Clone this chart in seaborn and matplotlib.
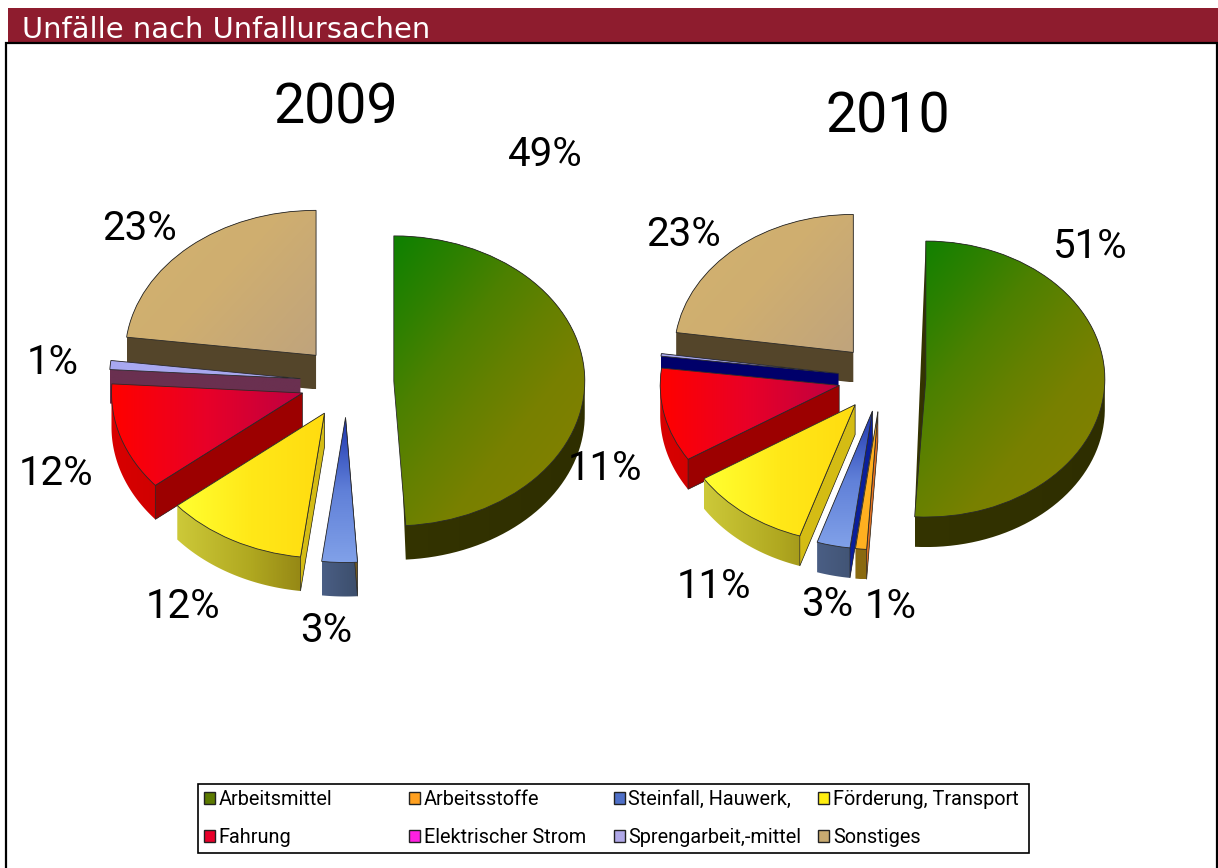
import numpy as np
import matplotlib
matplotlib.use('Agg')
import matplotlib.pyplot as plt
from matplotlib.colors import LinearSegmentedColormap
from matplotlib.patches import Patch, Polygon, Rectangle
import seaborn as sns

W, H = 1218, 868

# Data
categories = ['Arbeitsmittel', 'Arbeitsstoffe', 'Steinfall, Hauwerk,', 'Förderung, Transport',
              'Fahrung', 'Elektrischer Strom', 'Sprengarbeit,-mittel', 'Sonstiges']
values_2009 = [49, 0, 3, 12, 12, 0, 1, 23]
values_2010 = [51, 1, 3, 11, 11, 0, 0.3, 22.7]
labels_2009 = ['49%', '', '3%', '12%', '12%', '', '1%', '23%']
labels_2010 = ['51%', '1%', '3%', '11%', '11%', '', '', '23%']

# Label centres in pixels
label_pos_2009 = [(545, 154), None, (326, 631), (183, 607), (56, 473), None, (53, 362), (139, 229)]
label_pos_2010 = [(1090, 247), (891, 606), (827, 605), (714, 587), (605, 469), None, None, (684, 234)]

legend_colors = ['#5c7a00', '#ffa020', '#4f70c8', '#ffee10', '#e8002a', '#ff20e0', '#b0a8e8', '#c8aa70']

# Colour stops for the top faces, (angle of gradient in degrees, colours)
top_styles = [
    (-50, ['#108000', '#2c8000', '#4c8000', '#648000', '#788000', '#808000', '#808000']),
    (0, ['#ffb020', '#ffb020']),
    (-90, ['#2038b0', '#6080d8', '#80a0e8']),
    (0, ['#ffff30', '#ffe818', '#ffdc10']),
    (0, ['#ff0000', '#e80028', '#c00040']),
    (0, ['#ff20e0', '#ff20e0']),
    (0, ['#a8a8f0', '#a8a8f0']),
    (-35, ['#d2b26e', '#cfae70', '#c0a47c']),
]
wall_styles = [
    ['#343400', '#2e2e00'],
    ['#8a6a10', '#8a6a10'],
    ['#4a5e84', '#3c4e6c'],
    ['#ccc838', '#b0a820', '#8a7a10'],
    ['#d80000', '#b80000'],
    ['#800060', '#800060'],
    ['#6a3050', '#6a3050'],
    ['#54452a', '#54452a'],
]
face_colors_2009 = [None, None, '#705820', '#d4bc14', '#9c0000', None, None, None]
face_colors_2010 = [None, '#e07020', '#0a1e9a', '#d4bc14', '#9c0000', None, None, None]
wall_override_2010 = {6: ['#00006a', '#00006a']}

sns.set_theme(style='white')
plt.rcParams['font.family'] = ['DejaVu Sans']

fig = plt.figure(figsize=(W / 100, H / 100), dpi=100, facecolor='white')


def hull(pts):
    pts = pts[np.lexsort((pts[:, 1], pts[:, 0]))]

    def half(p):
        out = []
        for q in p:
            while len(out) > 1 and np.cross(out[-1] - out[-2], q - out[-1]) <= 0:
                out.pop()
            out.append(q)
        return out[:-1]

    return np.array(half(pts) + half(pts[::-1]))


def paint(ax, clip, bounds, colors, angle, z):
    # gradient image clipped to a patch
    x0, x1, y0, y1 = bounds
    yy, xx = np.mgrid[0:1:32j, 0:1:32j]
    a = np.radians(angle)
    t = xx * np.cos(a) + (1 - yy) * np.sin(a)
    t = (t - t.min()) / (t.max() - t.min())
    cmap = LinearSegmentedColormap.from_list('g', colors)
    im = ax.imshow(t, cmap=cmap, extent=(x0, x1, y0, y1), origin='upper',
                   aspect='auto', zorder=z, interpolation='bilinear')
    im.set_clip_path(clip)


def draw_pie(values, cx, cy, rx, ry, depth, face_colors, wall_override):
    ax = fig.add_axes([0, 0, 1, 1])
    wedges, _ = ax.pie(values, explode=[0.245] * len(values), startangle=90, counterclock=False,
                       wedgeprops={'facecolor': 'none', 'edgecolor': '#2a2a2a', 'linewidth': 0.6})
    ax.set_aspect('auto')
    ax.axis('off')
    d = depth / ry
    for i, (w, v) in enumerate(zip(wedges, values)):
        if v == 0:
            w.set_visible(False)
            continue
        z = 10 * (len(values) - i)
        t = np.radians(np.linspace(w.theta1, w.theta2, 80))
        arc = np.c_[w.center[0] + w.r * np.cos(t), w.center[1] + w.r * np.sin(t)]
        top = np.vstack([[w.center], arc])
        # the big half slice shows no wall along its straight edge
        base = arc if i == 0 else top
        wall = hull(np.vstack([base, base - [0, d]]))
        wall_patch = Polygon(wall, closed=True, transform=ax.transData, fc='none', ec='none')
        ax.add_patch(wall_patch)
        b = (wall[:, 0].min(), wall[:, 0].max(), wall[:, 1].min(), wall[:, 1].max())
        paint(ax, wall_patch, b, wall_override.get(i, wall_styles[i]), 0, z)
        if face_colors[i]:
            tip = arc[-1]
            ax.add_patch(Polygon([w.center, tip, tip - [0, d], np.array(w.center) - [0, d]],
                                 closed=True, fc=face_colors[i], ec='#2a2a2a', lw=0.5, zorder=z + 1))
        bt = (top[:, 0].min(), top[:, 0].max(), top[:, 1].min(), top[:, 1].max())
        angle, colors = top_styles[i]
        paint(ax, w, bt, colors, angle, z + 2)
        w.set_zorder(z + 3)
    ax.set_xlim((0 - cx) / rx, (W - cx) / rx)
    ax.set_ylim((cy - H) / ry, cy / ry)
    return ax


draw_pie(values_2009, 347, 382, 191, 145, 34, face_colors_2009, {})
draw_pie(values_2010, 882, 378, 179, 138, 30, face_colors_2010, wall_override_2010)

# Header band and frame
px = fig.transFigure


def rect(x, y, w, h, **kw):
    fig.add_artist(Rectangle((x / W, 1 - (y + h) / H), w / W, h / H, transform=px, **kw))


rect(8, 8, W - 8, 34, fc='#8e1c2e', ec='none')
rect(6, 43, W - 7, H - 40, fc='none', ec='black', lw=1.6)
fig.text(22 / W, 1 - 38 / H, 'Unfälle nach Unfallursachen', color='white', fontsize=20.9, ha='left', va='baseline')

narrow = ['Roboto', 'DejaVu Sans']
for name, x, y in [('2009', 336, 108), ('2010', 888, 117)]:
    fig.text(x / W, 1 - y / H, name, fontsize=40, family=narrow, ha='center', va='center', color='black')

for labels, pos in [(labels_2009, label_pos_2009), (labels_2010, label_pos_2010)]:
    for lab, p in zip(labels, pos):
        if p is not None and lab:
            fig.text(p[0] / W, 1 - p[1] / H, lab, fontsize=29, family=narrow, ha='center', va='center',
                     color='black', zorder=5)

# Legend, filled row by row
handles = [Patch(fc=c, ec='#222222', lw=1.0, label=n) for c, n in zip(legend_colors, categories)]
order = [0, 4, 1, 5, 2, 6, 3, 7]
leg = fig.legend([handles[i] for i in order], [categories[i] for i in order], ncol=4,
                 loc='upper left', bbox_to_anchor=(198 / W, 1 - 784 / H), bbox_transform=px,
                 prop={'family': narrow, 'size': 14.3}, labelcolor='black', frameon=True, fancybox=False,
                 framealpha=1, edgecolor='black', borderpad=0.3, borderaxespad=0, labelspacing=0.95,
                 handlelength=0.55, handleheight=0.55, handletextpad=0.2, columnspacing=1.0)
leg.get_frame().set_linewidth(1.2)
leg._legend_handle_box.mode = 'equal'
leg._legend_handle_box.sep = 3

fig.savefig('out.png', dpi=100)
